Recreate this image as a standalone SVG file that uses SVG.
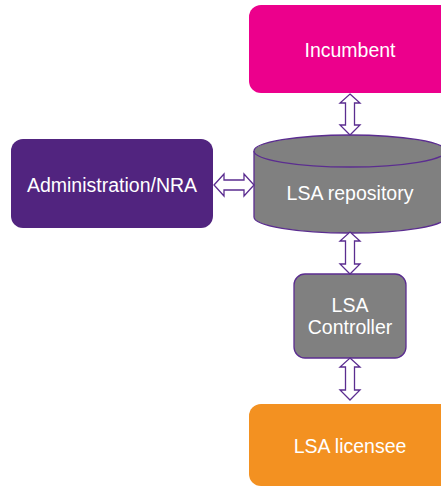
<svg xmlns="http://www.w3.org/2000/svg" width="441" height="488" viewBox="0 0 441 488">
  <style>
    .lbl { font-family: "Liberation Sans", Arial, sans-serif; font-size: 19.5px; fill: #ffffff; text-anchor: middle; }
    .arrow { fill: #ffffff; stroke: #5b2d90; stroke-width: 1.3; stroke-linejoin: miter; }
    .edge { stroke: #5b2d90; stroke-width: 1.3; }
  </style>
  <rect width="441" height="488" fill="#ffffff"/>

  <g id="incumbent">
    <rect x="249" y="5" width="210" height="88" rx="12" fill="#ec008c"/>
    <text class="lbl" x="350" y="57">Incumbent</text>
  </g>

  <g id="administration">
    <rect x="11" y="139" width="202" height="89" rx="12" fill="#51247f"/>
    <text class="lbl" x="112" y="192">Administration/NRA</text>
  </g>

  <g id="lsa-repository">
    <path class="edge" d="M254,151 L254,217 A96,16 0 0 0 446,217 L446,151" fill="#808080"/>
    <ellipse class="edge" cx="350" cy="151" rx="96" ry="16" fill="#808080"/>
    <text class="lbl" x="350" y="200">LSA repository</text>
  </g>

  <g id="lsa-controller">
    <rect class="edge" x="294" y="274" width="112" height="84" rx="11" fill="#808080"/>
    <text class="lbl" x="350" y="312">LSA</text>
    <text class="lbl" x="350" y="334">Controller</text>
  </g>

  <g id="lsa-licensee">
    <rect x="249" y="404" width="210" height="82" rx="12" fill="#f39121"/>
    <text class="lbl" x="350" y="453">LSA licensee</text>
  </g>

  <g id="connectors">
    <!-- Incumbent <-> repository -->
    <polygon class="arrow" points="350,94 360,103 354.5,103 354.5,125 360,125 350,135 340,125 345.5,125 345.5,103 340,103"/>
    <!-- Administration <-> repository -->
    <polygon class="arrow" points="214,185 224,174 224,180 244,180 244,174 254,185 244,196 244,190 224,190 224,196"/>
    <!-- repository <-> controller -->
    <polygon class="arrow" points="350,232 360,241 354.5,241 354.5,264 360,264 350,274 340,264 345.5,264 345.5,241 340,241"/>
    <!-- controller <-> licensee -->
    <polygon class="arrow" points="350,358 360,367 354.5,367 354.5,390 360,390 350,400 340,390 345.5,390 345.5,367 340,367"/>
  </g>
</svg>
